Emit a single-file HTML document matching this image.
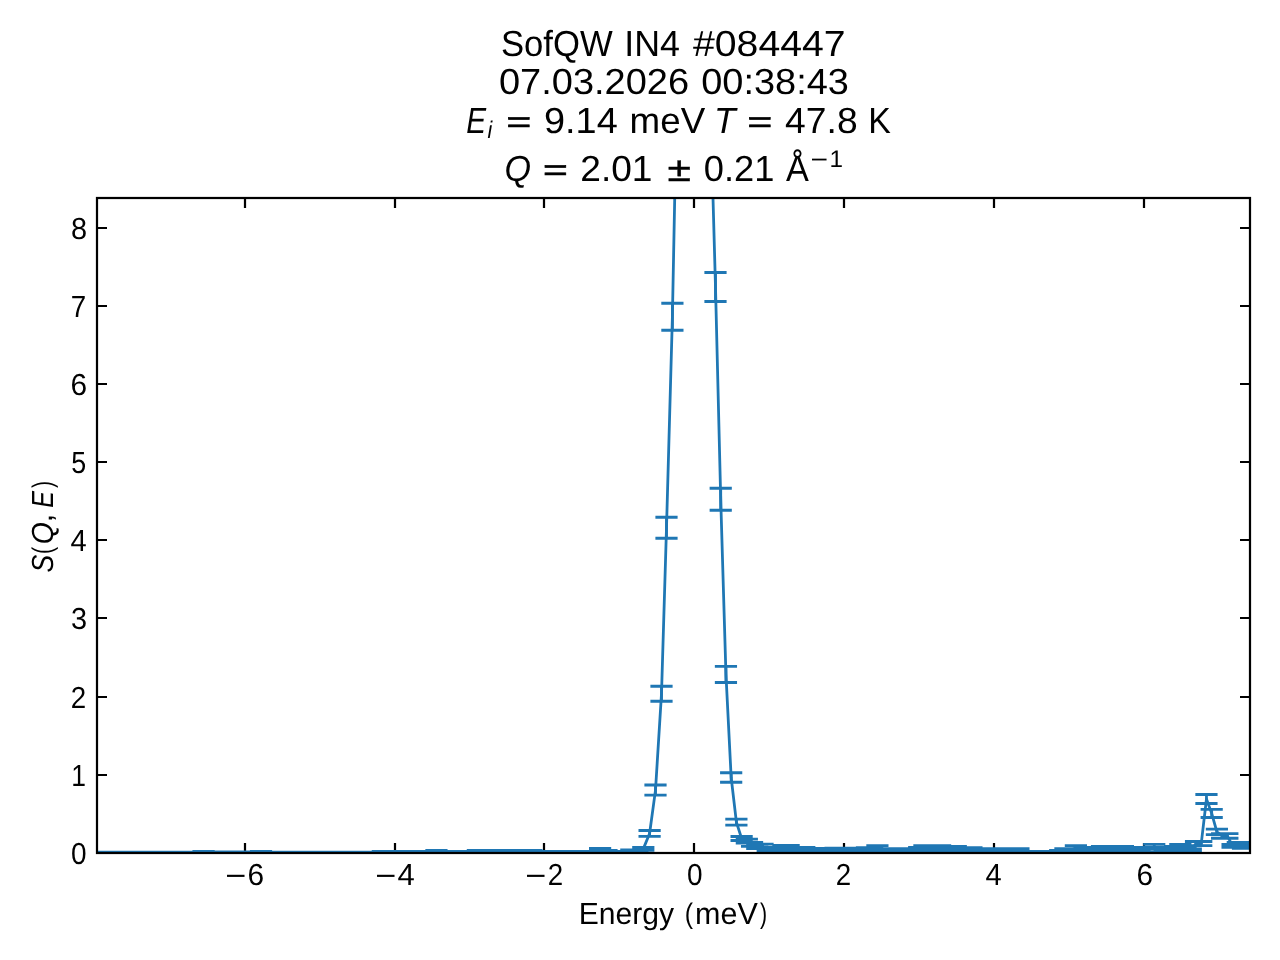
<!DOCTYPE html>
<html lang="en"><head><meta charset="utf-8"><title>SofQW IN4 #084447</title>
<style>
html,body{margin:0;padding:0;background:#fff;}
body{width:1280px;height:960px;overflow:hidden;font-family:"Liberation Sans",sans-serif;}
svg{display:block;}
svg text{font-family:"Liberation Sans",sans-serif;fill:#000;text-rendering:geometricPrecision;}
</style></head>
<body>
<svg width="1280" height="960" viewBox="0 0 1280 960">
<defs><clipPath id="ax"><rect x="97.0" y="198.0" width="1153.0" height="655.0"/></clipPath></defs>
<rect width="1280" height="960" fill="#fff"/>
<path d="M245.0 853.0V843.0M245.0 198.0V208.0M395.0 853.0V843.0M395.0 198.0V208.0M544.0 853.0V843.0M544.0 198.0V208.0M694.0 853.0V843.0M694.0 198.0V208.0M844.0 853.0V843.0M844.0 198.0V208.0M994.0 853.0V843.0M994.0 198.0V208.0M1144.0 853.0V843.0M1144.0 198.0V208.0M97.0 775.0H107.0M1250.0 775.0H1240.0M97.0 697.0H107.0M1250.0 697.0H1240.0M97.0 618.0H107.0M1250.0 618.0H1240.0M97.0 540.0H107.0M1250.0 540.0H1240.0M97.0 462.0H107.0M1250.0 462.0H1240.0M97.0 384.0H107.0M1250.0 384.0H1240.0M97.0 306.0H107.0M1250.0 306.0H1240.0M97.0 228.0H107.0M1250.0 228.0H1240.0" stroke="#000" stroke-width="2.22" fill="none"/>
<g clip-path="url(#ax)" stroke="#1f77b4" stroke-width="2.78" fill="none"><path d="M102.04 852.49L115.43 852.49L128.62 852.49L141.60 852.49L154.38 852.49L166.96 852.49L179.35 852.49L191.55 852.49L203.57 851.69L215.40 852.29L227.06 852.29L238.55 852.29L249.86 852.29L261.01 851.69L271.99 852.49L282.82 852.49L293.48 852.49L303.99 852.49L314.35 852.49L324.56 852.49L334.62 852.49L344.54 852.49L354.33 852.49L363.97 852.49L373.48 852.49L382.85 851.69L392.10 851.69L401.21 851.69L410.20 851.69L419.07 851.69L427.82 851.69L436.45 850.79L444.96 851.69L453.36 851.69L461.64 851.69L469.82 851.69L477.88 850.79L485.84 850.79L493.70 850.79L501.45 850.79L509.10 850.79L516.65 850.79L524.10 850.79L531.46 850.79L538.72 851.79L545.89 851.79L552.97 851.79L559.96 851.79L566.86 851.79L573.67 851.79L580.40 851.79L587.05 851.79L593.61 851.79L600.09 848.69L606.49 850.69L612.82 851.79L619.06 851.79L625.23 851.79L631.33 850.29L637.35 850.29L643.30 848.85L649.60 833.45L655.50 790.10L661.50 693.75L666.50 527.75L672.40 316.75L677.79 40.46L683.17 -357.90L688.56 -865.62L693.95 -1256.17L699.34 -1178.06L704.73 -709.40L710.11 95.13L715.50 287.00L720.72 499.25L725.95 674.40L731.17 777.50L736.39 822.20L741.62 838.50L746.84 841.20L752.06 844.40L757.28 846.50L762.51 846.39L767.73 850.41L772.95 849.61L778.18 850.41L783.40 847.49L788.62 847.49L793.85 849.61L799.07 850.41L804.29 849.61L809.51 850.10L814.74 850.10L819.96 850.10L825.18 850.10L830.41 850.41L835.63 849.95L840.85 849.95L846.08 849.95L851.30 849.95L856.52 849.95L861.74 849.95L866.97 849.70L872.19 849.70L877.41 847.79L882.64 850.41L887.86 850.20L893.08 850.20L898.31 850.20L903.53 850.20L908.75 850.20L913.97 850.41L919.20 849.61L924.42 847.79L929.64 849.61L934.87 850.41L940.09 847.79L945.31 850.41L950.53 849.61L955.76 848.69L960.98 849.70L966.20 849.70L971.43 849.70L976.65 850.20L981.87 850.20L987.10 850.20L992.32 850.20L997.54 850.20L1002.76 850.20L1007.99 850.20L1013.21 850.20L1018.43 850.20L1023.66 851.69L1028.88 851.69L1034.10 851.69L1039.33 851.69L1044.55 851.69L1049.77 851.69L1054.99 851.69L1060.22 851.10L1065.44 850.20L1070.66 850.20L1075.89 847.79L1081.11 850.41L1086.33 849.61L1091.56 850.41L1096.78 849.61L1102.00 848.69L1107.22 849.61L1112.45 850.41L1117.67 849.61L1122.89 848.69L1128.12 849.65L1133.34 849.65L1138.56 849.65L1143.79 849.65L1149.01 849.65L1154.23 846.59L1159.45 849.61L1164.68 850.41L1169.90 849.61L1175.12 848.69L1180.35 846.59L1185.57 849.61L1190.79 850.41L1196.02 843.55L1201.24 843.55L1206.46 799.00L1211.68 813.40L1216.91 831.90L1222.13 835.90L1227.35 835.90L1232.58 845.90L1237.80 844.30L1243.02 846.30L1248.25 845.30" stroke-linejoin="round"/><path d="M643.30 847.45V850.25M649.60 830.50V836.40M655.50 785.00V795.20M661.50 686.25V701.25M666.50 517.25V538.25M672.40 303.25V330.25M677.79 22.46V58.46M683.17 -375.90V-339.90M688.56 -883.62V-847.62M693.95 -1274.17V-1238.17M699.34 -1196.06V-1160.06M704.73 -727.40V-691.40M710.11 77.13V113.13M715.50 272.50V301.50M720.72 488.25V510.25M725.95 666.30V682.50M731.17 772.75V782.25M736.39 819.20V825.20M741.62 836.50V840.50M746.84 839.20V843.20M752.06 842.40V846.40M757.28 844.40V848.60M762.51 844.19V848.59M767.73 849.01V851.81M772.95 847.41V851.81M778.18 849.01V851.81M783.40 845.29V849.69M788.62 845.29V849.69M793.85 847.41V851.81M799.07 849.01V851.81M804.29 847.41V851.81M809.51 848.39V851.81M814.74 848.39V851.81M819.96 848.39V851.81M825.18 848.39V851.81M830.41 849.01V851.81M835.63 848.09V851.81M840.85 848.09V851.81M846.08 848.09V851.81M851.30 848.09V851.81M856.52 848.09V851.81M861.74 848.09V851.81M866.97 847.59V851.81M872.19 847.59V851.81M877.41 845.59V849.99M882.64 849.01V851.81M887.86 848.59V851.81M893.08 848.59V851.81M898.31 848.59V851.81M903.53 848.59V851.81M908.75 848.59V851.81M913.97 849.01V851.81M919.20 847.41V851.81M924.42 845.59V849.99M929.64 847.41V851.81M934.87 849.01V851.81M940.09 845.59V849.99M945.31 849.01V851.81M950.53 847.41V851.81M955.76 846.49V850.89M960.98 847.59V851.81M966.20 847.59V851.81M971.43 847.59V851.81M976.65 848.59V851.81M981.87 848.59V851.81M987.10 848.59V851.81M992.32 848.59V851.81M997.54 848.59V851.81M1002.76 848.59V851.81M1007.99 848.59V851.81M1013.21 848.59V851.81M1018.43 848.59V851.81M1060.22 850.39V851.81M1065.44 848.59V851.81M1070.66 848.59V851.81M1075.89 845.59V849.99M1081.11 849.01V851.81M1086.33 847.41V851.81M1091.56 849.01V851.81M1096.78 847.41V851.81M1102.00 846.49V850.89M1107.22 847.41V851.81M1112.45 849.01V851.81M1117.67 847.41V851.81M1122.89 846.49V850.89M1128.12 847.49V851.81M1133.34 847.49V851.81M1138.56 847.49V851.81M1143.79 847.49V851.81M1149.01 847.49V851.81M1154.23 844.39V848.79M1159.45 847.41V851.81M1164.68 849.01V851.81M1169.90 847.41V851.81M1175.12 846.49V850.89M1180.35 844.39V848.79M1185.57 847.41V851.81M1190.79 849.01V851.81M1196.02 841.50V845.60M1201.24 841.50V845.60M1206.46 794.50V803.50M1211.68 809.30V817.50M1216.91 829.20V834.60M1222.13 833.55V838.25M1227.35 833.55V838.25M1232.58 844.50V847.30M1237.80 842.30V846.30M1243.02 844.30V848.30M1248.25 842.30V848.30"/><path d="M90.94 852.19H113.14M90.94 852.79H113.14M104.33 852.19H126.53M104.33 852.79H126.53M117.52 852.19H139.72M117.52 852.79H139.72M130.50 852.19H152.70M130.50 852.79H152.70M143.28 852.19H165.48M143.28 852.79H165.48M155.86 852.19H178.06M155.86 852.79H178.06M168.25 852.19H190.45M168.25 852.79H190.45M180.45 852.19H202.65M180.45 852.79H202.65M192.47 851.39H214.67M192.47 851.99H214.67M204.30 851.99H226.50M204.30 852.59H226.50M215.96 851.99H238.16M215.96 852.59H238.16M227.45 851.99H249.65M227.45 852.59H249.65M238.76 851.99H260.96M238.76 852.59H260.96M249.91 851.39H272.11M249.91 851.99H272.11M260.89 852.19H283.09M260.89 852.79H283.09M271.72 852.19H293.92M271.72 852.79H293.92M282.38 852.19H304.58M282.38 852.79H304.58M292.89 852.19H315.09M292.89 852.79H315.09M303.25 852.19H325.45M303.25 852.79H325.45M313.46 852.19H335.66M313.46 852.79H335.66M323.52 852.19H345.72M323.52 852.79H345.72M333.44 852.19H355.64M333.44 852.79H355.64M343.23 852.19H365.43M343.23 852.79H365.43M352.87 852.19H375.07M352.87 852.79H375.07M362.38 852.19H384.58M362.38 852.79H384.58M371.75 851.39H393.95M371.75 851.99H393.95M381.00 851.39H403.20M381.00 851.99H403.20M390.11 851.39H412.31M390.11 851.99H412.31M399.10 851.39H421.30M399.10 851.99H421.30M407.97 851.39H430.17M407.97 851.99H430.17M416.72 851.39H438.92M416.72 851.99H438.92M425.35 850.49H447.55M425.35 851.09H447.55M433.86 851.39H456.06M433.86 851.99H456.06M442.26 851.39H464.46M442.26 851.99H464.46M450.54 851.39H472.74M450.54 851.99H472.74M458.72 851.39H480.92M458.72 851.99H480.92M466.78 850.49H488.98M466.78 851.09H488.98M474.74 850.49H496.94M474.74 851.09H496.94M482.60 850.49H504.80M482.60 851.09H504.80M490.35 850.49H512.55M490.35 851.09H512.55M498.00 850.49H520.20M498.00 851.09H520.20M505.55 850.49H527.75M505.55 851.09H527.75M513.00 850.49H535.20M513.00 851.09H535.20M520.36 850.49H542.56M520.36 851.09H542.56M527.62 851.49H549.82M527.62 852.09H549.82M534.79 851.49H556.99M534.79 852.09H556.99M541.87 851.49H564.07M541.87 852.09H564.07M548.86 851.49H571.06M548.86 852.09H571.06M555.76 851.49H577.96M555.76 852.09H577.96M562.57 851.49H584.77M562.57 852.09H584.77M569.30 851.49H591.50M569.30 852.09H591.50M575.95 851.49H598.15M575.95 852.09H598.15M582.51 851.49H604.71M582.51 852.09H604.71M588.99 848.39H611.19M588.99 848.99H611.19M595.39 850.39H617.59M595.39 850.99H617.59M601.72 851.49H623.92M601.72 852.09H623.92M607.96 851.49H630.16M607.96 852.09H630.16M614.13 851.49H636.33M614.13 852.09H636.33M620.23 849.99H642.43M620.23 850.59H642.43M626.25 849.99H648.45M626.25 850.59H648.45M632.20 847.45H654.40M632.20 850.25H654.40M638.50 830.50H660.70M638.50 836.40H660.70M644.40 785.00H666.60M644.40 795.20H666.60M650.40 686.25H672.60M650.40 701.25H672.60M655.40 517.25H677.60M655.40 538.25H677.60M661.30 303.25H683.50M661.30 330.25H683.50M666.69 22.46H688.89M666.69 58.46H688.89M672.07 -375.90H694.27M672.07 -339.90H694.27M677.46 -883.62H699.66M677.46 -847.62H699.66M682.85 -1274.17H705.05M682.85 -1238.17H705.05M688.24 -1196.06H710.44M688.24 -1160.06H710.44M693.62 -727.40H715.83M693.62 -691.40H715.83M699.01 77.13H721.21M699.01 113.13H721.21M704.40 272.50H726.60M704.40 301.50H726.60M709.62 488.25H731.82M709.62 510.25H731.82M714.85 666.30H737.05M714.85 682.50H737.05M720.07 772.75H742.27M720.07 782.25H742.27M725.29 819.20H747.49M725.29 825.20H747.49M730.51 836.50H752.72M730.51 840.50H752.72M735.74 839.20H757.94M735.74 843.20H757.94M740.96 842.40H763.16M740.96 846.40H763.16M746.18 844.40H768.38M746.18 848.60H768.38M751.41 844.19H773.61M751.41 848.59H773.61M756.63 849.01H778.83M756.63 851.81H778.83M761.85 847.41H784.05M761.85 851.81H784.05M767.08 849.01H789.28M767.08 851.81H789.28M772.30 845.29H794.50M772.30 849.69H794.50M777.52 845.29H799.72M777.52 849.69H799.72M782.75 847.41H804.95M782.75 851.81H804.95M787.97 849.01H810.17M787.97 851.81H810.17M793.19 847.41H815.39M793.19 851.81H815.39M798.41 848.39H820.61M798.41 851.81H820.61M803.64 848.39H825.84M803.64 851.81H825.84M808.86 848.39H831.06M808.86 851.81H831.06M814.08 848.39H836.28M814.08 851.81H836.28M819.31 849.01H841.51M819.31 851.81H841.51M824.53 848.09H846.73M824.53 851.81H846.73M829.75 848.09H851.95M829.75 851.81H851.95M834.98 848.09H857.18M834.98 851.81H857.18M840.20 848.09H862.40M840.20 851.81H862.40M845.42 848.09H867.62M845.42 851.81H867.62M850.64 848.09H872.84M850.64 851.81H872.84M855.87 847.59H878.07M855.87 851.81H878.07M861.09 847.59H883.29M861.09 851.81H883.29M866.31 845.59H888.51M866.31 849.99H888.51M871.54 849.01H893.74M871.54 851.81H893.74M876.76 848.59H898.96M876.76 851.81H898.96M881.98 848.59H904.18M881.98 851.81H904.18M887.21 848.59H909.41M887.21 851.81H909.41M892.43 848.59H914.63M892.43 851.81H914.63M897.65 848.59H919.85M897.65 851.81H919.85M902.87 849.01H925.07M902.87 851.81H925.07M908.10 847.41H930.30M908.10 851.81H930.30M913.32 845.59H935.52M913.32 849.99H935.52M918.54 847.41H940.74M918.54 851.81H940.74M923.77 849.01H945.97M923.77 851.81H945.97M928.99 845.59H951.19M928.99 849.99H951.19M934.21 849.01H956.41M934.21 851.81H956.41M939.43 847.41H961.63M939.43 851.81H961.63M944.66 846.49H966.86M944.66 850.89H966.86M949.88 847.59H972.08M949.88 851.81H972.08M955.10 847.59H977.30M955.10 851.81H977.30M960.33 847.59H982.53M960.33 851.81H982.53M965.55 848.59H987.75M965.55 851.81H987.75M970.77 848.59H992.97M970.77 851.81H992.97M976.00 848.59H998.20M976.00 851.81H998.20M981.22 848.59H1003.42M981.22 851.81H1003.42M986.44 848.59H1008.64M986.44 851.81H1008.64M991.66 848.59H1013.87M991.66 851.81H1013.87M996.89 848.59H1019.09M996.89 851.81H1019.09M1002.11 848.59H1024.31M1002.11 851.81H1024.31M1007.33 848.59H1029.53M1007.33 851.81H1029.53M1012.56 851.39H1034.76M1012.56 851.99H1034.76M1017.78 851.39H1039.98M1017.78 851.99H1039.98M1023.00 851.39H1045.20M1023.00 851.99H1045.20M1028.23 851.39H1050.43M1028.23 851.99H1050.43M1033.45 851.39H1055.65M1033.45 851.99H1055.65M1038.67 851.39H1060.87M1038.67 851.99H1060.87M1043.89 851.39H1066.09M1043.89 851.99H1066.09M1049.12 850.39H1071.32M1049.12 851.81H1071.32M1054.34 848.59H1076.54M1054.34 851.81H1076.54M1059.56 848.59H1081.76M1059.56 851.81H1081.76M1064.79 845.59H1086.99M1064.79 849.99H1086.99M1070.01 849.01H1092.21M1070.01 851.81H1092.21M1075.23 847.41H1097.43M1075.23 851.81H1097.43M1080.46 849.01H1102.66M1080.46 851.81H1102.66M1085.68 847.41H1107.88M1085.68 851.81H1107.88M1090.90 846.49H1113.10M1090.90 850.89H1113.10M1096.12 847.41H1118.32M1096.12 851.81H1118.32M1101.35 849.01H1123.55M1101.35 851.81H1123.55M1106.57 847.41H1128.77M1106.57 851.81H1128.77M1111.79 846.49H1133.99M1111.79 850.89H1133.99M1117.02 847.49H1139.22M1117.02 851.81H1139.22M1122.24 847.49H1144.44M1122.24 851.81H1144.44M1127.46 847.49H1149.66M1127.46 851.81H1149.66M1132.69 847.49H1154.89M1132.69 851.81H1154.89M1137.91 847.49H1160.11M1137.91 851.81H1160.11M1143.13 844.39H1165.33M1143.13 848.79H1165.33M1148.36 847.41H1170.55M1148.36 851.81H1170.55M1153.58 849.01H1175.78M1153.58 851.81H1175.78M1158.80 847.41H1181.00M1158.80 851.81H1181.00M1164.02 846.49H1186.22M1164.02 850.89H1186.22M1169.25 844.39H1191.45M1169.25 848.79H1191.45M1174.47 847.41H1196.67M1174.47 851.81H1196.67M1179.69 849.01H1201.89M1179.69 851.81H1201.89M1184.92 841.50H1207.12M1184.92 845.60H1207.12M1190.14 841.50H1212.34M1190.14 845.60H1212.34M1195.36 794.50H1217.56M1195.36 803.50H1217.56M1200.59 809.30H1222.78M1200.59 817.50H1222.78M1205.81 829.20H1228.01M1205.81 834.60H1228.01M1211.03 833.55H1233.23M1211.03 838.25H1233.23M1216.25 833.55H1238.45M1216.25 838.25H1238.45M1221.48 844.50H1243.68M1221.48 847.30H1243.68M1226.70 842.30H1248.90M1226.70 846.30H1248.90M1231.92 844.30H1254.12M1231.92 848.30H1254.12M1237.15 842.30H1259.35M1237.15 848.30H1259.35"/></g>
<rect x="97.0" y="198.0" width="1153.0" height="655.0" fill="none" stroke="#000" stroke-width="2.22"/>
<g style="opacity:0.999">
<text transform="translate(500.92 56.00) scale(0.9554 1.0000)" font-size="36.30">SofQW</text>
<text transform="translate(624.20 56.00) scale(0.9858 1.0000)" font-size="36.30">IN4</text>
<text transform="translate(693.00 56.00) scale(1.0798 1.0000)" font-size="36.30">#084447</text>
<text transform="translate(498.91 94.10) scale(1.0471 1.0000)" font-size="36.30">07.03.2026</text>
<text transform="translate(701.21 94.10) scale(1.0455 1.0000)" font-size="36.30">00:38:43</text>
<text transform="translate(466.33 133.10) scale(0.8200 1.0000)" font-size="36.30" font-style="italic">E</text>
<text transform="translate(487.47 138.10) scale(0.8396 0.9500)" font-size="25.41" font-style="italic">i</text>
<text transform="translate(506.61 132.20) scale(1.1680 0.8300)" font-size="36.30" stroke="#000" stroke-width="0.80">=</text>
<text transform="translate(544.02 133.10) scale(1.0434 1.0000)" font-size="36.30">9.14</text>
<text transform="translate(629.60 133.10) scale(1.0131 1.0000)" font-size="36.30">meV</text>
<text transform="translate(714.04 133.10) scale(0.9743 1.0000)" font-size="36.30" font-style="italic">T</text>
<text transform="translate(747.61 132.20) scale(1.1680 0.8300)" font-size="36.30" stroke="#000" stroke-width="0.80">=</text>
<text transform="translate(785.12 133.10) scale(1.0261 1.0000)" font-size="36.30">47.8</text>
<text transform="translate(868.15 133.10) scale(0.9340 1.0000)" font-size="36.30">K</text>
<text transform="translate(504.40 181.00) scale(0.9403 1.0000)" font-size="36.30" font-style="italic">Q</text>
<text transform="translate(543.01 180.00) scale(1.1680 0.8300)" font-size="36.30" stroke="#000" stroke-width="0.80">=</text>
<text transform="translate(580.26 181.00) scale(1.0226 1.0000)" font-size="36.30">2.01</text>
<text transform="translate(667.46 181.00) scale(1.1791 0.9550)" font-size="36.30" stroke="#000" stroke-width="0.40">±</text>
<text transform="translate(703.87 181.00) scale(0.9993 1.0000)" font-size="36.30">0.21</text>
<text transform="translate(786.00 181.00) scale(0.9430 1.0000)" font-size="36.30">Å</text>
<text transform="translate(810.59 167.70) scale(1.1806 1.0000)" font-size="25.41">−</text>
<text transform="translate(829.48 167.00) scale(0.9554 0.9400)" font-size="25.41">1</text>
<text transform="translate(578.65 924.00) scale(0.9867 1.0000)" font-size="30.50">Energy</text>
<text transform="translate(684.83 922.50) scale(0.8160 0.9300)" font-size="30.50">(</text>
<text transform="translate(695.09 924.00) scale(1.0007 1.0000)" font-size="30.50">meV</text>
<text transform="translate(760.00 922.50) scale(0.6995 0.9300)" font-size="30.50">)</text>
<text transform="translate(225.31 886.00) scale(1.1803 1.0000)" font-size="30.50">−</text>
<text transform="translate(247.60 885.00) scale(0.9792 1.0000)" font-size="30.50">6</text>
<text transform="translate(375.31 886.00) scale(1.1803 1.0000)" font-size="30.50">−</text>
<text transform="translate(397.52 885.00) scale(1.0174 1.0000)" font-size="30.50">4</text>
<text transform="translate(525.31 886.00) scale(1.1803 1.0000)" font-size="30.50">−</text>
<text transform="translate(547.70 885.00) scale(0.9093 1.0000)" font-size="30.50">2</text>
<text transform="translate(687.12 885.00) scale(0.9180 1.0000)" font-size="30.50">0</text>
<text transform="translate(835.70 885.00) scale(0.9093 1.0000)" font-size="30.50">2</text>
<text transform="translate(985.55 885.00) scale(0.9538 1.0000)" font-size="30.50">4</text>
<text transform="translate(1136.60 885.00) scale(0.9792 1.0000)" font-size="30.50">6</text>
<text transform="translate(71.12 864.00) scale(0.9180 1.0000)" font-size="30.50">0</text>
<text transform="translate(71.34 786.00) scale(0.8683 1.0000)" font-size="30.50">1</text>
<text transform="translate(70.70 708.00) scale(0.9093 1.0000)" font-size="30.50">2</text>
<text transform="translate(71.10 629.00) scale(0.9476 1.0000)" font-size="30.50">3</text>
<text transform="translate(70.55 551.00) scale(0.9538 1.0000)" font-size="30.50">4</text>
<text transform="translate(71.16 473.00) scale(0.8800 1.0000)" font-size="30.50">5</text>
<text transform="translate(70.60 395.00) scale(0.9792 1.0000)" font-size="30.50">6</text>
<text transform="translate(70.70 317.00) scale(0.9093 1.0000)" font-size="30.50">7</text>
<text transform="translate(71.10 239.00) scale(0.9476 1.0000)" font-size="30.50">8</text>
<text transform="translate(53.25 572.41) rotate(-90) scale(0.8701 1.0000)" font-size="30.50" font-style="italic">S</text>
<text transform="translate(52.25 554.00) rotate(-90) scale(0.6995 0.9300)" font-size="30.50">(</text>
<text transform="translate(53.25 544.33) rotate(-90) scale(0.9326 1.0000)" font-size="30.50" font-style="italic">Q</text>
<text transform="translate(52.45 522.50) rotate(-90) scale(1.0492 1.0000)" font-size="30.50">,</text>
<text transform="translate(53.25 507.79) rotate(-90) scale(0.8198 1.0000)" font-size="30.50" font-style="italic">E</text>
<text transform="translate(52.25 488.00) rotate(-90) scale(0.6995 0.9300)" font-size="30.50">)</text>
</g>
</svg>
</body></html>
